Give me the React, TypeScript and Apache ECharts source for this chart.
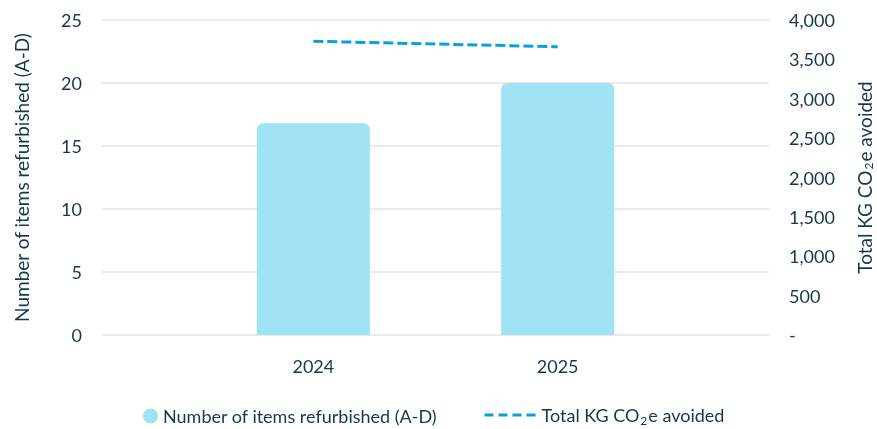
import React, { useEffect, useRef } from "react";
import * as echarts from "echarts";

const years = ["2024", "2025"];
const itemsRefurbished = [16.8, 20];
const kgCO2eAvoided = [3730, 3660];
const leftTicks = [0, 5, 10, 15, 20, 25];
const rightTicks = [0, 500, 1000, 1500, 2000, 2500, 3000, 3500, 4000];

const TEXT = "#17384a";
const FONT = "Lato";

export default function App() {
  const ref = useRef<HTMLDivElement>(null);
  useEffect(() => {
    if (!ref.current) return;
    const chart = echarts.init(ref.current, undefined, { renderer: "svg" });
    const sub = { fontSize: 12, fontFamily: FONT, color: TEXT, padding: [11, 1, 0, 1] };
    const subAxis = { fontSize: 12, fontFamily: FONT, color: TEXT, padding: [7, 1, 0, 1] };
    chart.setOption({
      animation: false,
      textStyle: { fontFamily: FONT, color: TEXT },
      grid: {
        left: 102,
        right: 108,
        top: 20,
        bottom: 94,
        containLabel: false,
        outerBoundsMode: "none",
      },
      xAxis: {
        type: "value",
        min: -0.865,
        max: 1.865,
        splitLine: { show: false },
        axisLine: { show: false },
        axisTick: { show: false },
        axisLabel: {
          customValues: years.map((_, i) => i),
          formatter: (v: number) => years[Math.round(v)] ?? "",
          fontSize: 18,
          color: TEXT,
          fontFamily: FONT,
          margin: 22,
        },
      },
      yAxis: [
        {
          type: "value",
          min: leftTicks[0],
          max: leftTicks[leftTicks.length - 1],
          interval: 5,
          name: "Number of items refurbished (A-D)",
          nameLocation: "middle",
          nameGap: 71,
          nameTextStyle: { fontSize: 19, color: TEXT, fontFamily: FONT },
          axisLine: { show: false },
          axisTick: { show: false },
          axisLabel: { fontSize: 18, color: TEXT, fontFamily: FONT, margin: 20 },
          splitLine: { lineStyle: { color: "#e3e3e3", width: 1.5 } },
        },
        {
          type: "value",
          min: rightTicks[0],
          max: rightTicks[rightTicks.length - 1],
          interval: 500,
          position: "right",
          name: "{a|Total KG CO}{s|2}{a|e avoided}",
          nameLocation: "middle",
          nameGap: 86,
          nameRotate: 90,
          nameTextStyle: {
            fontSize: 19,
            color: TEXT,
            fontFamily: FONT,
            rich: { a: { fontSize: 19, color: TEXT, fontFamily: FONT }, s: subAxis },
          },
          axisLine: { show: false },
          axisTick: { show: false },
          splitLine: { show: false },
          axisLabel: {
            fontSize: 18,
            color: TEXT,
            fontFamily: FONT,
            margin: 20,
            formatter: (v: number) => (v === 0 ? "-" : v.toLocaleString("en-US")),
          },
        },
      ],
      legend: [
        {
          data: [{ name: "Number of items refurbished (A-D)", icon: "circle" }],
          left: 138,
          top: 402,
          itemWidth: 15,
          itemHeight: 15,
          itemGap: 11,
          textStyle: { fontSize: 18, color: TEXT, fontFamily: FONT },
        },
        {
          data: ["Total KG CO2e avoided"],
          left: 478,
          top: 401,
          itemWidth: 52,
          itemHeight: 14,
          itemGap: 11,
          itemStyle: { opacity: 0 },
          lineStyle: { width: 3, type: [9, 5], color: "#0a9fde" },
          formatter: () => "{a|Total KG CO}{s|2}{a|e avoided}",
          textStyle: {
            fontSize: 18,
            color: TEXT,
            fontFamily: FONT,
            rich: { a: { fontSize: 18, color: TEXT, fontFamily: FONT }, s: sub },
          },
        },
      ],
      series: [
        {
          name: "Number of items refurbished (A-D)",
          type: "bar",
          yAxisIndex: 0,
          barWidth: 113,
          data: itemsRefurbished.map((v, i) => [i, v]),
          itemStyle: { color: "#a0e3f4", borderRadius: [6, 6, 0, 0] },
        },
        {
          name: "Total KG CO2e avoided",
          type: "line",
          yAxisIndex: 1,
          symbol: "none",
          showSymbol: false,
          data: kgCO2eAvoided.map((v, i) => [i, v]),
          lineStyle: { color: "#0a9fde", width: 3, type: [10, 4] },
          itemStyle: { color: "#0a9fde" },
        },
      ],
    });
    return () => chart.dispose();
  }, []);
  return (
    <div
      ref={ref}
      style={{ position: "fixed", left: 0, top: 0, width: 877, height: 429 }}
    />
  );
}
